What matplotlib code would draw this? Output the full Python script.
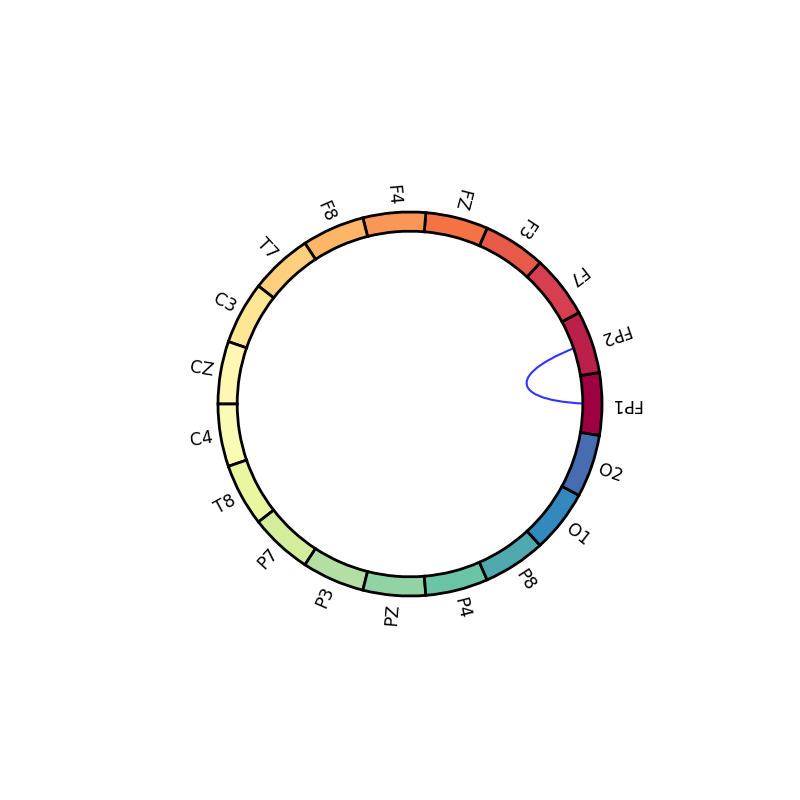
import numpy as np
import matplotlib
matplotlib.use("Agg")
import matplotlib.pyplot as plt
import matplotlib.path as m_path
import matplotlib.patches as m_patches

node_names = ["FP1", "FP2", "F7", "F3", "FZ", "F4", "F8", "T7", "C3", "CZ",
              "C4", "T8", "P7", "P3", "PZ", "P4", "P8", "O1", "O2"]
con_pairs = [("FP1", "FP2")]
con_values = [1.0]
con_colors = ["#3333ff"]

n = len(node_names)
node_angles = np.arange(n) * 2 * np.pi / n
node_width = 2 * np.pi / n
cmap = plt.get_cmap("Spectral")
node_colors = [cmap(i / float(n)) for i in range(n)]

fig = plt.figure(figsize=(8, 8), dpi=100, facecolor="white")
ax = fig.add_axes([0.2725, 0.255, 0.48, 0.48], polar=True)
ax.set_facecolor("white")
ax.set_ylim(0, 10)
ax.set_xticks([])
ax.set_yticks([])
ax.spines["polar"].set_visible(False)
ax.grid(False)

for (a, b), c in zip(con_pairs, con_colors):
    t0 = node_angles[node_names.index(a)]
    t1 = node_angles[node_names.index(b)]
    verts = [(t0, 10), (t0, 5), (t1, 5), (t1, 10)]
    codes = [m_path.Path.MOVETO, m_path.Path.CURVE4, m_path.Path.CURVE4, m_path.Path.LINETO]
    patch = m_patches.PathPatch(m_path.Path(verts, codes), fill=False,
                                edgecolor=c, linewidth=1.5, zorder=1)
    ax.add_patch(patch)

bars = ax.bar(node_angles, np.ones(n), width=node_width, bottom=9,
              edgecolor="black", linewidth=2, align="center", zorder=2)
for bar, col in zip(bars, node_colors):
    bar.set_facecolor(col)
    bar.set_clip_on(False)

for name, ang in zip(node_names, node_angles):
    deg = np.degrees(ang)
    if deg >= 270:
        ha = "left"
    else:
        deg += 180
        ha = "right"
    ax.text(ang, 10.4, name, size=12.5, rotation=deg, rotation_mode="anchor",
            ha=ha, va="center", color="black")

fig.savefig("out.png", dpi=100, facecolor="white")
